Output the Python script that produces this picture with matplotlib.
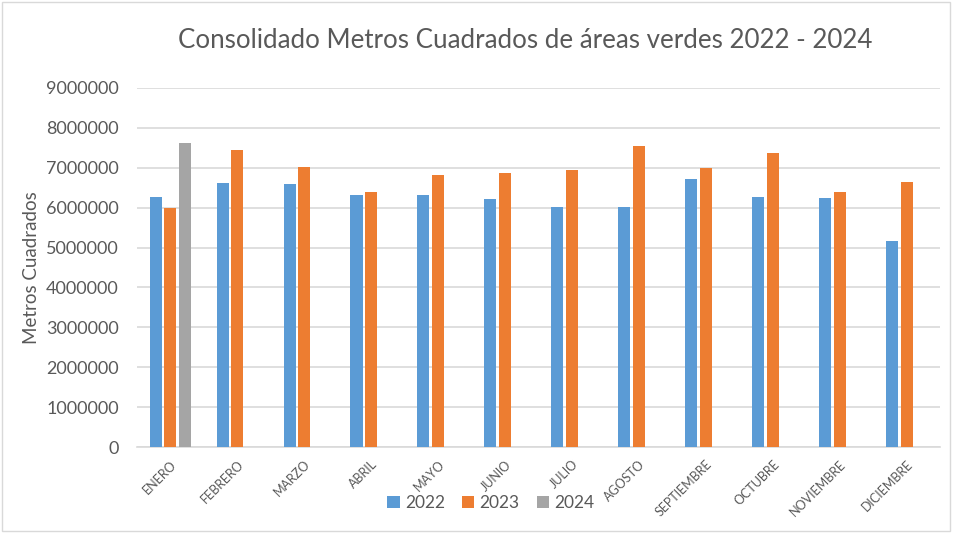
import matplotlib.pyplot as plt
import numpy as np

meses = ['ENERO', 'FEBRERO', 'MARZO', 'ABRIL', 'MAYO', 'JUNIO', 'JULIO',
         'AGOSTO', 'SEPTIEMBRE', 'OCTUBRE', 'NOVIEMBRE', 'DICIEMBRE']
v2022 = [6260000, 6610000, 6590000, 6330000, 6310000, 6210000, 6020000,
         6020000, 6720000, 6260000, 6230000, 5160000]
v2023 = [6000000, 7450000, 7030000, 6390000, 6830000, 6870000, 6950000,
         7550000, 7000000, 7360000, 6390000, 6640000]
v2024 = [7620000]

plt.rcParams['font.family'] = ['Lato', 'DejaVu Sans']
gris = '#595959'

fig = plt.figure(figsize=(9.54, 5.33), dpi=100)
ax = fig.add_axes([137/954, 1 - 447/533, (940-137)/954, (447-88)/533])

x = np.arange(len(meses))
w = 0.18
paso = 0.22
ax.bar(x - paso, v2022, w, color='#5B9BD5', label='2022', zorder=3)
ax.bar(x, v2023, w, color='#ED7D31', label='2023', zorder=3)
ax.bar(x[:len(v2024)] + paso, v2024, w, color='#A5A5A5', label='2024', zorder=3)

ax.set_xlim(-0.5, len(meses) - 0.5)
ax.set_ylim(0, 9000000)
ax.set_yticks(np.arange(0, 9000001, 1000000))
ax.set_yticklabels([str(v) for v in range(0, 9000001, 1000000)])
ax.yaxis.grid(True, color='#D9D9D9', linewidth=1.2, zorder=0)
for s in ['top', 'right', 'left']:
    ax.spines[s].set_visible(False)
ax.spines['bottom'].set_color('#D9D9D9')
ax.spines['bottom'].set_linewidth(1.2)
ax.tick_params(axis='both', length=0, colors=gris)
ax.tick_params(axis='y', labelsize=13, pad=13)
ax.set_xticks(x)
ax.set_xticklabels(meses, rotation=45, ha='right', rotation_mode='anchor', fontsize=9)
ax.tick_params(axis='x', pad=8)

ax.set_ylabel('Metros Cuadrados', fontsize=13.5, color=gris)
ax.yaxis.set_label_coords(-0.121, 0.5)
fig.text(0.551, 1 - 40/533, 'Consolidado Metros Cuadrados de áreas verdes 2022 - 2024',
         ha='center', va='center', fontsize=18.6, color=gris)

ax.legend(loc='center', bbox_to_anchor=(491/954, 1 - 503/533), bbox_transform=fig.transFigure,
          ncol=3, frameon=False, fontsize=12.5, labelcolor=gris, handlelength=0.7,
          handleheight=0.7, handletextpad=0.3, columnspacing=1.0)

fig.patches.append(plt.Rectangle((0.002, 0.003), 0.994, 0.994, transform=fig.transFigure,
                                 fill=False, edgecolor='#D9D9D9', linewidth=1))

fig.savefig('out.png', dpi=100)
